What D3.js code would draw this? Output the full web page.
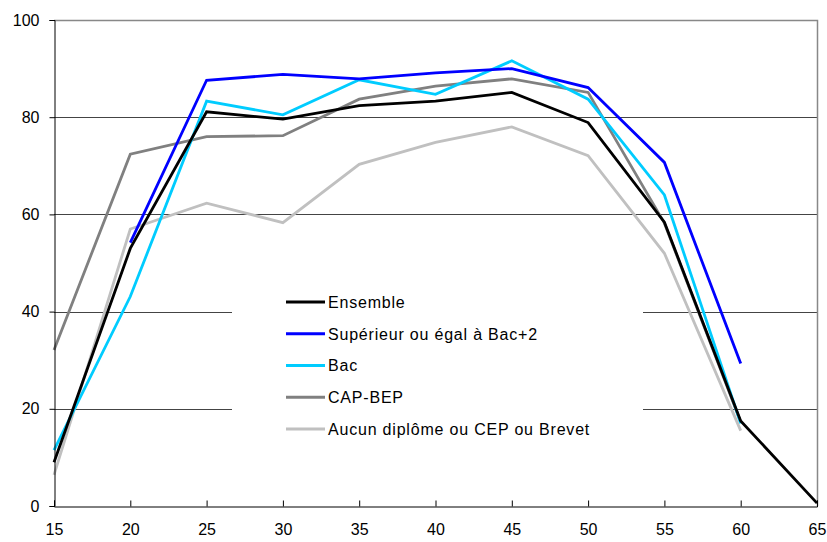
<!DOCTYPE html>
<html>
<head>
<meta charset="utf-8">
<script src="https://cdn.jsdelivr.net/npm/d3@7"></script>
<style>
  body { margin: 0; background: #fff; }
  svg text { font-family: "Liberation Sans", Arial, sans-serif; }
</style>
</head>
<body>
<div id="chart"></div>
<script>
    // ages (x axis)
    var ages = [15, 20, 25, 30, 35, 40, 45, 50, 55, 60, 65];
    var yTicks = [0, 20, 40, 60, 80, 100];

    // series values, null where no point
    var ensemble  = [9.0, 53.0, 81.1, 79.6, 82.4, 83.3, 85.1, 78.9, 58.4, 17.5, 0.6];
    var superieur = [null, 54.2, 87.6, 88.8, 87.9, 89.1, 90.0, 86.1, 70.7, 29.3, null];
    var bac       = [11.5, 43.1, 83.3, 80.5, 87.7, 84.7, 91.6, 83.7, 64.0, 17.0, null];
    var capBep    = [32.1, 72.4, 76.0, 76.2, 83.7, 86.4, 87.9, 85.1, 58.2, 17.3, null];
    var aucun     = [6.4, 57.0, 62.3, 58.3, 70.3, 74.8, 78.0, 72.1, 52.0, 15.5, null];

    var seriesNames = ["Ensemble", "Supérieur ou égal à Bac+2", "Bac", "CAP-BEP",
                       "Aucun diplôme ou CEP ou Brevet"];
    var seriesValues = [ensemble, superieur, bac, capBep, aucun];
    var seriesColors = ["#000000", "#0000ff", "#00ccff", "#808080", "#c0c0c0"];

(function() {
    "use strict";
    var w = 827, h = 542,
        mLeft = 54, mRight = 817, mTop = 20, mBottom = 506;

    var x = d3.scaleLinear().domain([15, 65]).range([mLeft, mRight]);
    var y = d3.scaleLinear().domain([0, 100]).range([mBottom, mTop]);

    var svg = d3.select("#chart").append("svg")
        .attr("width", w)
        .attr("height", h);

    // gridlines
    svg.append("g")
        .selectAll("line")
        .data(yTicks.filter(function(d) { return d > 0 && d < 100; }))
        .enter().append("line")
        .attr("x1", mLeft).attr("x2", mRight)
        .attr("y1", function(d) { return Math.round(y(d)) + 0.5; })
        .attr("y2", function(d) { return Math.round(y(d)) + 0.5; })
        .attr("stroke", "#444")
        .attr("stroke-width", 1);

    // plot frame top / right
    svg.append("path")
        .attr("d", "M" + mLeft + "," + (mTop + 0.5) + "H" + (mRight + 0.5) + "V" + mBottom)
        .attr("fill", "none")
        .attr("stroke", "#888")
        .attr("stroke-width", 1.5);

    // lines
    var line = d3.line()
        .defined(function(d) { return d[1] != null; })
        .x(function(d) { return x(d[0]); })
        .y(function(d) { return y(d[1]); });

    // draw lighter ones first so black ends on top
    var order = [4, 3, 2, 1, 0];
    order.forEach(function(i) {
        svg.append("path")
            .datum(ages.map(function(a, j) { return [a, seriesValues[i][j]]; }))
            .attr("d", line)
            .attr("fill", "none")
            .attr("stroke", seriesColors[i])
            .attr("stroke-width", 2.8)
            .attr("stroke-linejoin", "miter");
    });

    // legend box (hides gridlines behind it)
    var lg = svg.append("g");
    lg.append("rect")
        .attr("x", 232).attr("y", 280)
        .attr("width", 411).attr("height", 165)
        .attr("fill", "#fff");

    var rowY = d3.scaleLinear().domain([0, 4]).range([302, 429]);
    var items = lg.selectAll("g.item")
        .data(seriesNames)
        .enter().append("g")
        .attr("transform", function(d, i) { return "translate(0," + rowY(i) + ")"; });
    items.append("line")
        .attr("x1", 286).attr("x2", 325)
        .attr("stroke", function(d, i) { return seriesColors[i]; })
        .attr("stroke-width", 2.8);
    items.append("text")
        .attr("x", 328)
        .attr("dy", "0.36em")
        .attr("font-size", 16)
        .attr("letter-spacing", 0.8)
        .attr("fill", "#000")
        .text(function(d) { return d; });

    // axes
    var yAxis = d3.axisLeft(y).tickValues(yTicks).tickSize(5).tickPadding(10);
    var gy = svg.append("g")
        .attr("transform", "translate(" + (mLeft + 0.5) + ",0)")
        .call(yAxis);
    gy.select(".domain").attr("stroke", "#000");
    gy.selectAll("text").attr("font-size", 16).attr("fill", "#000")
        .style("font-family", "Liberation Sans, Arial, sans-serif");

    var xAxis = d3.axisBottom(x).tickValues(ages).tickSize(-6).tickPadding(17);
    var gx = svg.append("g")
        .attr("transform", "translate(0," + (mBottom + 0.5) + ")")
        .call(xAxis);
    gx.select(".domain").attr("stroke", "#000");
    gx.selectAll("text").attr("font-size", 16).attr("fill", "#000")
        .style("font-family", "Liberation Sans, Arial, sans-serif");
})();
</script>
</body>
</html>
